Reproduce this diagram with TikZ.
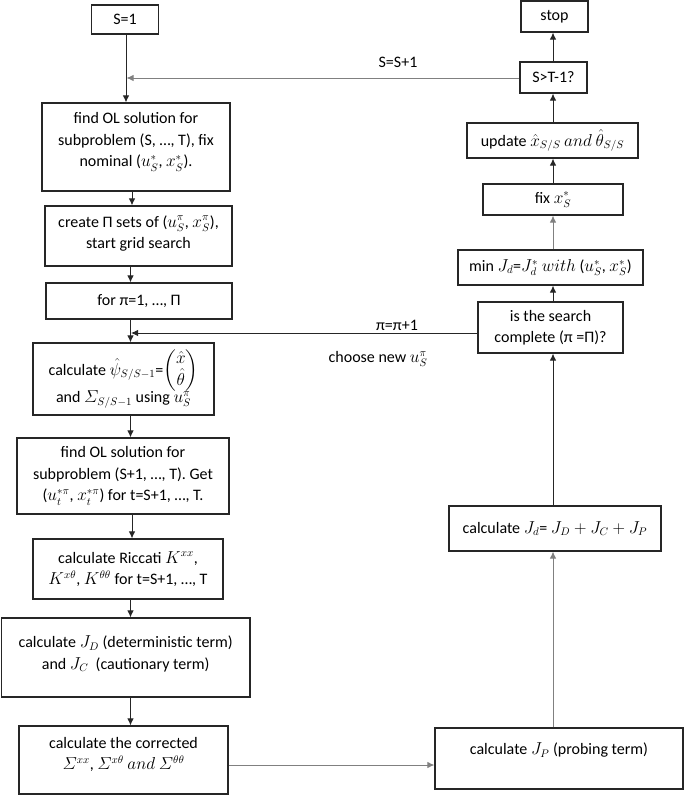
\documentclass[tikz,border=0pt]{standalone}
\usepackage{amsmath}
\usepackage{fontspec}
\setmainfont{Carlito}
\usetikzlibrary{arrows.meta}
\newcommand{\bt}[4]{\parbox[c][#2pt][c]{#1pt}{\fontsize{16}{21.5}\selectfont\centering #4\par\vspace{#3pt}}}
\begin{document}
\begin{tikzpicture}[x=1pt,y=-1pt,
  box/.style={draw=black!85, line width=1.1pt, inner sep=0pt},
  arr/.style={-{Latex[length=7pt,width=6.5pt]}, line width=1pt, draw=black!85},
  gline/.style={draw=black!50},
  lbl/.style={font=\fontsize{16}{20}\selectfont, inner sep=0pt}]
\useasboundingbox (0,0) rectangle (685,795);
% left column
\node[box] (s1) at (125,19.5) {\bt{67}{29}{0}{S=1}};
\node[box] (ol1) at (136,147) {\bt{188}{88}{10}{find OL solution for\\subproblem (S, …, T), fix\\nominal ($u_S^*$, $x_S^*$).}};
\node[box] (crt) at (138.5,236) {\bt{187}{60}{5}{create Π sets of ($u_S^\pi$, $x_S^\pi$),\\start grid search}};
\node[box] (fl) at (139,301) {\bt{186}{36}{0}{for π=1, …, Π}};
\node[box] (psi) at (123.5,379) {\bt{181}{72}{0}{calculate $\hat\psi_{S/S-1}$=$\renewcommand{\arraystretch}{0.8}\begin{pmatrix}\hat x\\ \hat\theta\end{pmatrix}$\\[-2pt]and $\varSigma_{S/S-1}$ using $u_S^\pi$}};
\node[box] (ol2) at (123,476) {\bt{212}{76}{0}{find OL solution for\\subproblem (S+1, …, T). Get\\($u_t^{*\pi}$, $x_t^{*\pi}$) for t=S+1, …, T.}};
\node[box] (ric) at (128,569) {\bt{190}{60}{0}{calculate Riccati $K^{xx}$,\\$K^{x\theta}$, $K^{\theta\theta}$ for t=S+1, …, T}};
\node[box] (jdc) at (125.7,657.5) {\bt{248.6}{79}{7}{calculate $J_D$ (deterministic term)\\and $J_C$\ \ (cautionary term)}};
\node[box] (cor) at (123.5,760) {\bt{209}{68}{11}{calculate the corrected\\$\varSigma^{xx}$, $\varSigma^{x\theta}\ and\ \varSigma^{\theta\theta}$}};
% right column
\node[box] (stop) at (554.5,16.5) {\bt{67}{31}{0}{stop}};
\node[box] (st) at (553.5,77.5) {\bt{67}{31}{0}{S>T-1?}};
\node[box] (upd) at (552.5,140.5) {\bt{171}{35}{0}{update $\hat x_{S/S}\ and\ \hat\theta_{S/S}$}};
\node[box] (fix) at (553,199.5) {\bt{140}{31}{0}{fix $x_S^*$}};
\node[box] (mn) at (550.5,267.5) {\bt{185}{35}{0}{min $J_d$=$J_d^*$ $with$ ($u_S^*$, $x_S^*$)}};
\node[box] (srch) at (550.5,327.5) {\bt{145}{51}{0}{is the search\\complete (π =Π)?}};
\node[box] (jd) at (555,528.5) {\bt{212}{45}{0}{calculate $J_d$= $J_D+J_C+J_P$}};
\node[box] (jp) at (559,758.5) {\bt{248}{61}{17}{calculate $J_P$ (probing term)}};
% labels
\node[lbl] (l1) at (398,62) {S=S+1};
\node[lbl] (l2) at (397,325) {π=π+1};
\node[lbl] (l3) at (378,359) {choose new $u_S^\pi$};
% helper coordinates
\coordinate (lxa) at (126,0);
\coordinate (lxb) at (132,0);
\coordinate (lxc) at (130.5,0);
\coordinate (rx) at (553,0);
\coordinate (h1) at (126.5,78);
\coordinate (h2) at (131,333);
\coordinate (h3) at (0,765);
% left column arrows
\draw[arr] (s1.south -| lxa) -- (ol1.north -| lxa);
\draw[arr] (ol1.south -| lxb) -- (crt.north -| lxb);
\draw[arr] (crt.south -| lxc) -- (fl.north -| lxc);
\draw[arr] (fl.south -| lxc) -- (psi.north -| lxc);
\draw[arr] (psi.south -| lxc) -- (ol2.north -| lxc);
\draw[arr] (ol2.south -| lxb) -- (ric.north -| lxb);
\draw[arr] (ric.south -| lxc) -- (jdc.north -| lxc);
\draw[arr] (jdc.south -| lxc) -- (cor.north -| lxc);
% feedback loops
\draw[arr, gline] (st.west |- h1) -- (h1);
\draw[arr] (srch.west |- h2) -- (h2);
\draw[arr, gline] (cor.east |- h3) -- (jp.west |- h3);
% right column arrows
\draw[arr, gline] (jp.north -| rx) -- (jd.south -| rx);
\draw[arr] (jd.north -| rx) -- (srch.south -| rx);
\draw[arr] (srch.north -| rx) -- (mn.south -| rx);
\draw[arr, gline] (mn.north -| rx) -- (fix.south -| rx);
\draw[arr] (fix.north -| rx) -- (upd.south -| rx);
\draw[arr] (upd.north -| rx) -- (st.south -| rx);
\draw[arr] (st.north -| rx) -- (stop.south -| rx);
\end{tikzpicture}
\end{document}
